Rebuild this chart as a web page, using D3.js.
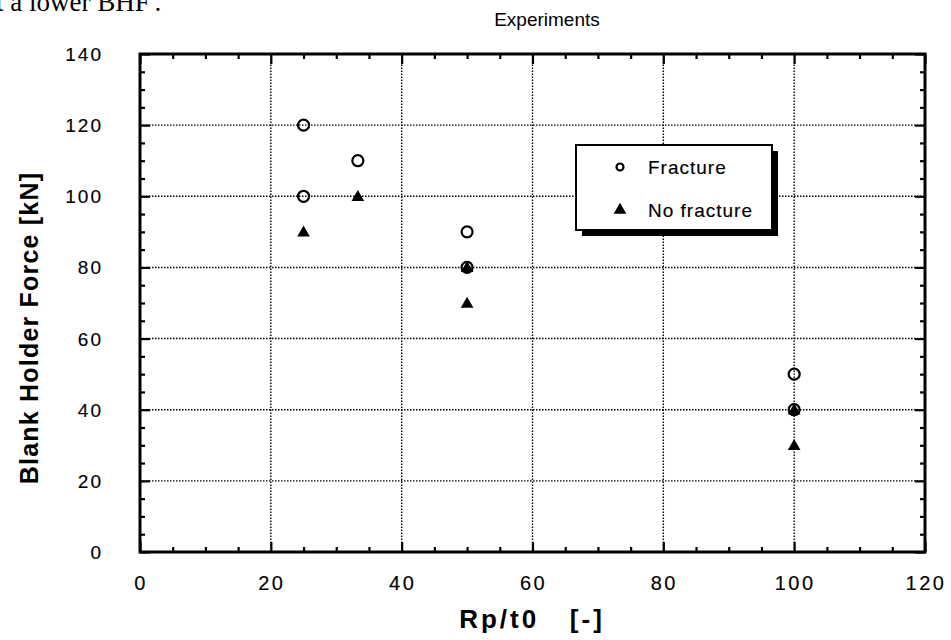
<!DOCTYPE html>
<html>
<head>
<meta charset="utf-8">
<script src="https://cdn.jsdelivr.net/npm/d3@7"></script>
<style>
  body { margin: 0; background: #fff; }
  svg text { font-family: "Liberation Sans", Arial, sans-serif; fill: #000; }
  svg text.heavy { stroke: #000; stroke-width: 0.15px; }
</style>
</head>
<body>
<div id="chart"></div>
<script>
// data
const fractureX = [25, 25, 33.3, 50, 50, 100, 100];
const fractureY = [120, 100, 110, 90, 80, 50, 40];
const noFractureX = [25, 33.3, 50, 50, 100, 100];
const noFractureY = [90, 100, 80, 70, 40, 30];
const xTicks = [0, 20, 40, 60, 80, 100, 120];
const yTicks = [0, 20, 40, 60, 80, 100, 120, 140];
const legendLabels = ["Fracture", "No fracture"];

const width = 951, height = 640;
const margin = {left: 140, right: 26, top: 54, bottom: 88};

const svg = d3.select('#chart').append('svg')
    .attr('width', width)
    .attr('height', height);

const x = d3.scaleLinear().domain([0, 120]).range([margin.left, width - margin.right]);
const y = d3.scaleLinear().domain([0, 140]).range([height - margin.bottom, margin.top]);

// stray line of body text from the page the figure was scanned from
svg.append('text')
    .attr('x', -4).attr('y', 11)
    .style('font-family', '"Liberation Serif", serif')
    .style('font-size', '27px')
    .text("t a lower BHF'.");

// dotted grid at the major ticks
const grid = svg.append('g');
grid.selectAll('.vg').data(xTicks.slice(1, -1)).join('line')
    .attr('x1', d => x(d)).attr('x2', d => x(d))
    .attr('y1', y(0)).attr('y2', y(140))
    .attr('stroke', '#000').attr('stroke-width', 1.4)
    .attr('stroke-dasharray', '1.5,1.5');
grid.selectAll('.hg').data(yTicks.slice(1, -1)).join('line')
    .attr('x1', x(0)).attr('x2', x(120))
    .attr('y1', d => y(d)).attr('y2', d => y(d))
    .attr('stroke', '#000').attr('stroke-width', 1.4)
    .attr('stroke-dasharray', '1.5,1.5');

// inward ticks on all four sides, minor every 5
const minorX = d3.range(0, 121, 5);
const minorY = d3.range(0, 141, 5);
function tickLen(d) { return d % 20 === 0 ? 10 : 5; }

function addAxis(axis, tr, vals) {
  const g = svg.append('g')
      .attr('transform', tr)
      .call(axis.tickValues(vals).tickFormat('').tickSizeOuter(0));
  g.select('.domain').remove();
  g.selectAll('.tick line').attr('stroke-width', 2.2);
  return g;
}

addAxis(d3.axisBottom(x), `translate(0,${y(0)})`, minorX)
  .selectAll('.tick line').attr('y2', d => -tickLen(d));
addAxis(d3.axisTop(x), `translate(0,${y(140)})`, minorX)
  .selectAll('.tick line').attr('y2', d => tickLen(d));
addAxis(d3.axisLeft(y), `translate(${x(0)},0)`, minorY)
  .selectAll('.tick line').attr('x2', d => tickLen(d));
addAxis(d3.axisRight(y), `translate(${x(120)},0)`, minorY)
  .selectAll('.tick line').attr('x2', d => -tickLen(d));

// frame
svg.append('rect')
    .attr('x', x(0)).attr('y', y(140))
    .attr('width', x(120) - x(0)).attr('height', y(0) - y(140))
    .attr('fill', 'none').attr('stroke', '#000').attr('stroke-width', 3);

// tick labels
svg.append('g').selectAll('text').data(xTicks).join('text')
    .attr('class', 'heavy')
    .attr('x', d => x(d) + 1).attr('y', y(0) + 38)
    .attr('text-anchor', 'middle')
    .style('font-size', '20px').style('letter-spacing', '2.5px')
    .text(d => d);
svg.append('g').selectAll('text').data(yTicks).join('text')
    .attr('class', 'heavy')
    .attr('x', x(0) - 37).attr('y', d => y(d) + 7)
    .attr('text-anchor', 'end')
    .style('font-size', '19px').style('letter-spacing', '2px')
    .text(d => d);

// titles
svg.append('text')
    .attr('x', 547).attr('y', 26)
    .attr('text-anchor', 'middle')
    .style('font-size', '19px')
    .text('Experiments');

svg.append('text')
    .attr('x', 532).attr('y', 628)
    .attr('text-anchor', 'middle')
    .style('font-size', '26px').style('font-weight', 'bold')
    .style('letter-spacing', '3px')
    .style('white-space', 'pre')
    .text('Rp/t0   [-]');

svg.append('text')
    .attr('transform', `translate(38,${(y(0) + y(140)) / 2 + 25}) rotate(-90)`)
    .attr('text-anchor', 'middle')
    .style('font-size', '25px').style('font-weight', 'bold')
    .style('letter-spacing', '1.2px')
    .text('Blank Holder Force [kN]');

// markers
const tri = d3.symbol().type(d3.symbolTriangle).size(70);

svg.append('g').selectAll('path').data(noFractureX).join('path')
    .attr('d', tri)
    .attr('transform', (d, i) => `translate(${x(d)},${y(noFractureY[i]) + 1})`)
    .attr('fill', '#000');

svg.append('g').selectAll('circle').data(fractureX).join('circle')
    .attr('cx', d => x(d)).attr('cy', (d, i) => y(fractureY[i]))
    .attr('r', 5.5)
    .attr('fill', 'none').attr('stroke', '#000').attr('stroke-width', 2.2);

// legend with drop shadow
const lg = svg.append('g').attr('transform', 'translate(576,145)');
lg.append('rect').attr('x', 6).attr('y', 6).attr('width', 196).attr('height', 85).attr('fill', '#000');
lg.append('rect').attr('width', 196).attr('height', 85)
    .attr('fill', '#fff').attr('stroke', '#000').attr('stroke-width', 2);

lg.append('circle').attr('cx', 44).attr('cy', 22).attr('r', 3.5)
    .attr('fill', 'none').attr('stroke', '#000').attr('stroke-width', 2.2);
lg.append('path').attr('d', tri).attr('transform', 'translate(44,65)').attr('fill', '#000');

lg.selectAll('.lt').data(legendLabels).join('text')
    .attr('class', 'heavy')
    .attr('x', 72).attr('y', (d, i) => 29 + i * 43)
    .style('font-size', '19px').style('letter-spacing', '1px')
    .text(d => d);
</script>
</body>
</html>
